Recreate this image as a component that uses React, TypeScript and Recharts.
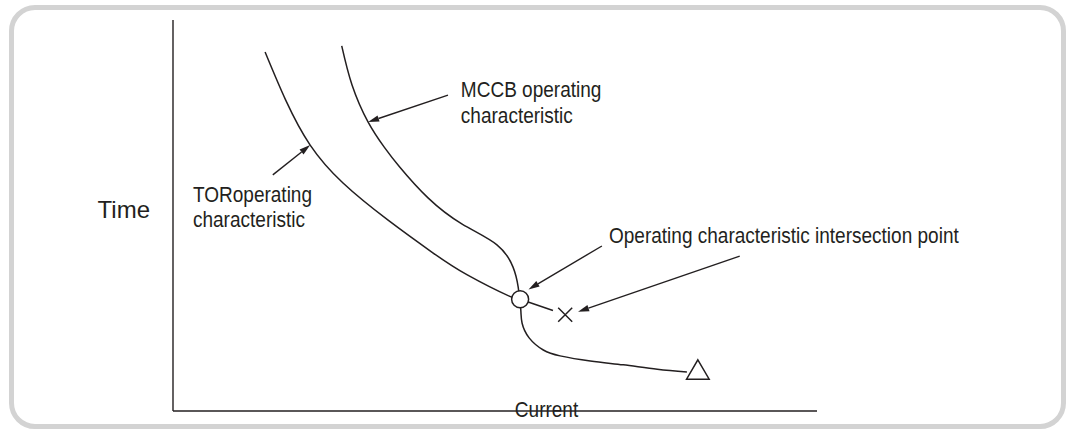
import { ComposedChart, Line, Scatter, XAxis, YAxis, ReferenceLine, ReferenceDot } from "recharts";

const INK = "#231f20";
const FONT = "'Liberation Sans', Arial, Helvetica, sans-serif";
const SQUEEZE = 0.865; // the source lettering is a narrow Helvetica

// current (x) vs time (y), both on a 0..100 scale
const torCurve = [
    { x: 14.3, y: 91.8 },
    { x: 17.5, y: 79.5 },
    { x: 21.3, y: 68.0 },
    { x: 26.4, y: 58.3 },
    { x: 33.4, y: 48.8 },
    { x: 40.4, y: 40.4 },
    { x: 45.7, y: 34.8 },
    { x: 52.3, y: 29.3 },
    { x: 53.9, y: 28.6 },
];

const mccbCurve = [
    { x: 26.2, y: 93.4 },
    { x: 27.8, y: 83.4 },
    { x: 30.3, y: 73.9 },
    { x: 32.8, y: 67.5 },
    { x: 35.2, y: 62.4 },
    { x: 39.6, y: 54.5 },
    { x: 44.9, y: 47.8 },
    { x: 50.3, y: 42.5 },
    { x: 52.8, y: 36.8 },
    { x: 53.6, y: 31.7 },
    { x: 54.0, y: 26.0 },
    { x: 54.2, y: 22.5 },
    { x: 55.3, y: 18.7 },
    { x: 57.5, y: 15.6 },
    { x: 60.1, y: 14.1 },
    { x: 64.8, y: 12.8 },
    { x: 69.9, y: 11.8 },
    { x: 75.2, y: 10.7 },
    { x: 79.8, y: 10.0 },
]

// short run of the TOR curve past the crossing, up to the x mark
const torTail = [
    { x: 53.9, y: 28.6 },
    { x: 59.0, y: 25.7 },
]

const crossingPoint = [{ x: 53.9, y: 28.6 }]
const torTripPoint = [{ x: 60.9, y: 24.6 }]
const mccbEndPoint = [{ x: 81.5, y: 10.6 }]

// leader arrows: from the note to the curve
const arrows = [
    { from: { x: 42.7, y: 80.8 }, to: { x: 30.3, y: 73.9 } },
    { from: { x: 15.5, y: 60.4 }, to: { x: 21.3, y: 68.0 } },
    { from: { x: 66.6, y: 42.2 }, to: { x: 55.2, y: 31.1 } },
    { from: { x: 88.0, y: 39.6 }, to: { x: 62.9, y: 25.4 } },
]

const notes = [
    { x: 44.7, y: 80.3, lines: ["MCCB operating", "characteristic"] },
    { x: 3.1, y: 53.5, lines: ["TORoperating", "characteristic"] },
    { x: 67.7, y: 43.0, lines: ["Operating characteristic intersection point"] },
]

const Arrow = (p: any) => {
    const { x1, y1, x2, y2 } = p
    const a = Math.atan2(y2 - y1, x2 - x1)
    const len = 11
    const half = 3.2
    const bx = x2 - len * Math.cos(a)
    const by = y2 - len * Math.sin(a)
    const nx = -Math.sin(a) * half
    const ny = Math.cos(a) * half
    return (
        <g>
            <line x1={x1} y1={y1} x2={bx} y2={by} stroke={INK} strokeWidth={1.4} />
            <polygon points={`${x2},${y2} ${bx + nx},${by + ny} ${bx - nx},${by - ny}`} fill={INK} />
        </g>
    )
}

const NoteText = ({ cx, cy, lines }: { cx: number, cy: number, lines: string[] }) => (
    <text transform={`translate(${cx},${cy}) scale(${SQUEEZE},1)`} fontFamily={FONT} fontSize={22} fill={INK}>
        {lines.map((l, i) => (
            <tspan key={i} x={0} dy={i === 0 ? 0 : 25.5}>{l}</tspan>
        ))}
    </text>
)

const TimeLabel = ({ viewBox }: any) => (
    <text x={viewBox.x + viewBox.width - 23} y={viewBox.y + viewBox.height / 2 + 2.5} textAnchor="end"
          fontFamily={FONT} fontSize={24} fill={INK}>Time</text>
)

const CurrentLabel = ({ viewBox }: any) => (
    <text transform={`translate(${viewBox.x + viewBox.width * 0.58},${viewBox.y + 6}) scale(${SQUEEZE},1)`}
          textAnchor="middle" fontFamily={FONT} fontSize={22} fill={INK}>Current</text>
)

const App = () => {
    return (
        <div style={{ position: "absolute", left: 0, top: 0, width: 1066, height: 429 }}>
            <div style={{
                position: "absolute", left: 9, top: 5, width: 1057, height: 424, boxSizing: "border-box",
                border: "5px solid #d3d3d3", borderRadius: 26,
            }} />
            <div style={{ position: "absolute", left: 0, top: 0 }}>
                <ComposedChart width={1066} height={429} margin={{ top: 20, right: 249, bottom: 0, left: 113 }}>
                    <XAxis type="number" dataKey="x" domain={[0, 100]} tick={false} tickLine={false} height={18}
                           axisLine={{ stroke: INK, strokeWidth: 1.4 }} label={(p: any) => <CurrentLabel {...p} />} />
                    <YAxis type="number" domain={[0, 100]} tick={false} tickLine={false} width={60}
                           axisLine={{ stroke: INK, strokeWidth: 1.4 }} label={(p: any) => <TimeLabel {...p} />} />
                    <Line data={torCurve} dataKey="y" type="natural" stroke={INK} strokeWidth={1.5}
                          dot={false} activeDot={false} isAnimationActive={false} />
                    <Line data={mccbCurve} dataKey="y" type="natural" stroke={INK} strokeWidth={1.5}
                          dot={false} activeDot={false} isAnimationActive={false} />
                    <Line data={torTail} dataKey="y" type="linear" stroke={INK} strokeWidth={1.5}
                          dot={false} activeDot={false} isAnimationActive={false} />
                    {arrows.map((a, i) => (
                        <ReferenceLine key={i} segment={[a.from, a.to]} shape={(p: any) => <Arrow {...p} />} />
                    ))}
                    <Scatter data={crossingPoint} dataKey="y" isAnimationActive={false}
                             shape={(p: any) => <circle cx={p.cx} cy={p.cy} r={8.5} fill="#fff" stroke={INK} strokeWidth={1.5} />} />
                    <Scatter data={torTripPoint} dataKey="y" isAnimationActive={false}
                             shape={(p: any) => (
                                 <path d={`M${p.cx - 7},${p.cy - 7}L${p.cx + 7},${p.cy + 7}M${p.cx + 7},${p.cy - 7}L${p.cx - 7},${p.cy + 7}`}
                                       stroke={INK} strokeWidth={1.5} fill="none" />
                             )} />
                    <Scatter data={mccbEndPoint} dataKey="y" isAnimationActive={false}
                             shape={(p: any) => (
                                 <polygon points={`${p.cx},${p.cy - 9.7} ${p.cx + 11.3},${p.cy + 9.6} ${p.cx - 11.3},${p.cy + 9.6}`}
                                          fill="#fff" stroke={INK} strokeWidth={1.5} />
                             )} />
                    {notes.map((n, i) => (
                        <ReferenceDot key={i} x={n.x} y={n.y} r={0}
                                      shape={(p: any) => <NoteText cx={p.cx} cy={p.cy} lines={n.lines} />} />
                    ))}
                </ComposedChart>
            </div>
        </div>
    )
}

export default App
